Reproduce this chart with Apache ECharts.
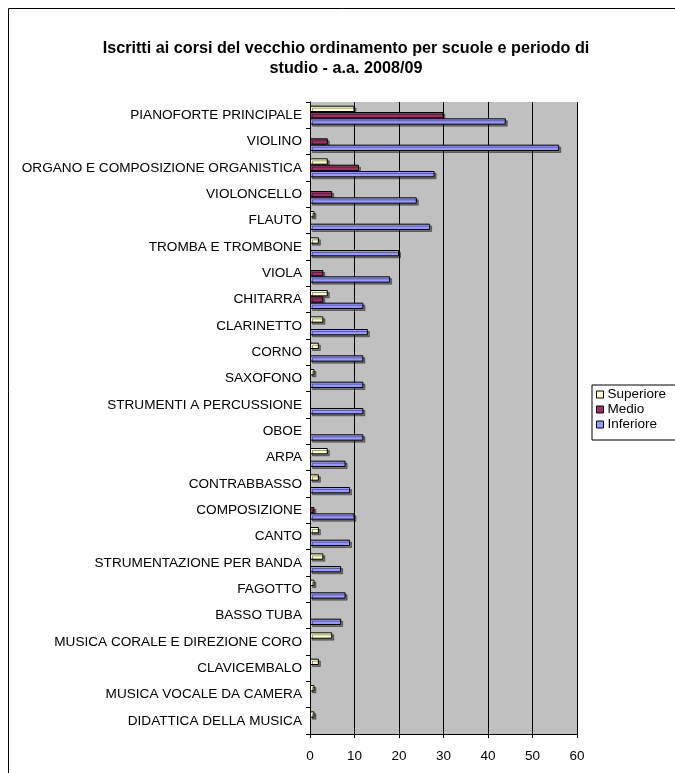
<!DOCTYPE html>
<html>
<head>
<meta charset="utf-8">
<script src="https://cdn.jsdelivr.net/npm/echarts@6/dist/echarts.min.js"></script>
<style>
  html, body { margin: 0; padding: 0; background: #fff; }
  #chart { width: 675px; height: 773px; }
</style>
</head>
<body>
<div id="chart"></div>
<script>
const categories = [
  'PIANOFORTE PRINCIPALE', 'VIOLINO', 'ORGANO E COMPOSIZIONE ORGANISTICA', 'VIOLONCELLO',
  'FLAUTO', 'TROMBA E TROMBONE', 'VIOLA', 'CHITARRA', 'CLARINETTO', 'CORNO', 'SAXOFONO',
  'STRUMENTI A PERCUSSIONE', 'OBOE', 'ARPA', 'CONTRABBASSO', 'COMPOSIZIONE', 'CANTO',
  'STRUMENTAZIONE PER BANDA', 'FAGOTTO', 'BASSO TUBA', 'MUSICA CORALE E DIREZIONE CORO',
  'CLAVICEMBALO', 'MUSICA VOCALE DA CAMERA', 'DIDATTICA DELLA MUSICA'
]
const superiore = [10, 0, 4, 0, 1, 2, 0, 4, 3, 2, 1, 0, 0, 4, 2, 0, 2, 3, 1, 0, 5, 2, 1, 1]
const medio     = [30, 4, 11, 5, 0, 0, 3, 3, 0, 0, 0, 0, 0, 0, 0, 1, 0, 0, 0, 0, 0, 0, 0, 0]
const inferiore = [44, 56, 28, 24, 27, 20, 18, 12, 13, 12, 12, 12, 12, 8, 9, 10, 9, 7, 8, 7, 0, 0, 0, 0]
const xTicks = [0, 10, 20, 30, 40, 50, 60]

const font = 'Liberation Sans, Arial, sans-serif'

// zero values are not drawn as bars
const clean = arr => arr.map(v => (v === 0 ? '-' : v))

function barSeries(name, data, color) {
  return {
    name: name,
    type: 'bar',
    data: clean(data),
    barGap: '0%',
    barCategoryGap: '28%',
    itemStyle: {
      color: color,
      borderColor: '#000',
      borderWidth: 1,
      shadowColor: 'rgba(0,0,0,0.4)',
      shadowOffsetX: 2,
      shadowOffsetY: 2,
      shadowBlur: 0
    }
  }
}

const chart = echarts.init(document.getElementById('chart'))
chart.setOption({
  animation: false,
  textStyle: { fontFamily: font },
  graphic: [
    {
      type: 'rect',
      shape: { x: 8.5, y: 8.5, width: 720, height: 820 },
      style: { fill: 'none', stroke: '#000', lineWidth: 1 }
    }
  ],
  title: {
    text: 'Iscritti ai corsi del vecchio ordinamento per scuole e periodo di\nstudio - a.a. 2008/09',
    left: 341,
    textAlign: 'center',
    top: 34,
    textStyle: { fontSize: 16.2, fontWeight: 'bold', color: '#000', lineHeight: 20, fontFamily: font }
  },
  legend: {
    orient: 'vertical',
    left: 592,
    top: 385,
    itemWidth: 7,
    itemHeight: 7,
    itemGap: 0,
    padding: [2, 30, 8, 4],
    borderColor: '#000',
    borderWidth: 1,
    icon: 'rect',
    itemStyle: { borderColor: '#000', borderWidth: 1, shadowBlur: 0, shadowOffsetX: 0, shadowOffsetY: 0 },
    textStyle: { fontSize: 13.5, color: '#000', lineHeight: 15, padding: [0, 0, 0, -1] },
    data: ['Superiore', 'Medio', 'Inferiore']
  },
  grid: {
    left: 310,
    right: 98,
    top: 102,
    bottom: 39,
    show: true,
    backgroundColor: '#c0c0c0',
    borderWidth: 0
  },
  xAxis: {
    type: 'value',
    min: xTicks[0],
    max: xTicks[xTicks.length - 1],
    interval: 10,
    axisLine: { show: true, lineStyle: { color: '#000', width: 1 } },
    axisTick: { show: true, length: 4, lineStyle: { color: '#000' } },
    axisLabel: { fontSize: 13.5, color: '#000', margin: 15 },
    splitLine: { show: true, lineStyle: { color: '#000', width: 1 } }
  },
  yAxis: {
    type: 'category',
    data: categories,
    inverse: true,
    axisLine: { show: true, lineStyle: { color: '#000', width: 1 } },
    axisTick: { show: true, length: 4, lineStyle: { color: '#000' } },
    axisLabel: { fontSize: 13.6, color: '#000', margin: 8 },
    splitLine: { show: false }
  },
  series: [
    barSeries('Superiore', superiore, '#ffffcc'),
    barSeries('Medio', medio, '#993366'),
    barSeries('Inferiore', inferiore, '#9999ff')
  ]
})
</script>
</body>
</html>
